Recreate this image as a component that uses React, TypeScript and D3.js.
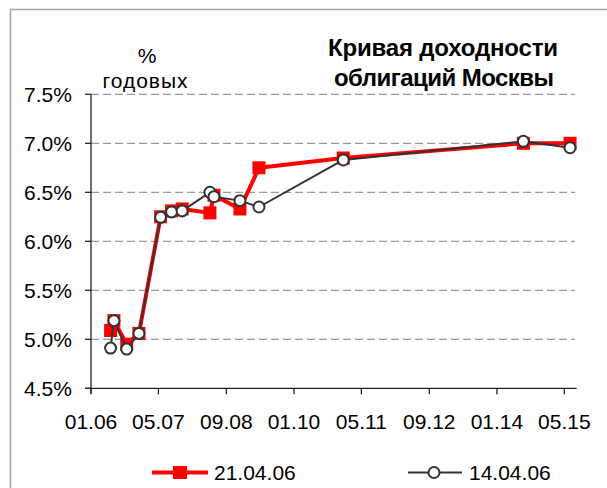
import * as d3 from 'd3';

const W = 607;
const H = 488;

// maturity dates of the bonds (shared by both curves)
const maturities = [
  '2006-05-22', '2006-06-15', '2006-09-15', '2006-12-12', '2007-05-17',
  '2007-08-04', '2007-10-19', '2008-05-06', '2008-06-04', '2008-12-08',
  '2009-04-24', '2010-12-22', '2014-07-10', '2015-06-11',
];
const yields210406 = [5.09, 5.19, 4.95, 5.06, 6.25, 6.31, 6.33, 6.29, 6.47, 6.33, 6.75, 6.85, 7.0, 7.0];
const yields140406 = [4.91, 5.19, 4.9, 5.06, 6.245, 6.3, 6.31, 6.5, 6.455, 6.415, 6.35, 6.83, 7.02, 6.955];

const xTickDates = ['2006-01-01', '2007-05-01', '2008-09-01', '2010-01-01', '2011-05-01', '2012-09-01', '2014-01-01', '2015-05-01'];
const yTicks = [4.5, 5.0, 5.5, 6.0, 6.5, 7.0, 7.5];
const seriesNames = ['21.04.06', '14.04.06'];

const font = '"Liberation Sans", Arial, sans-serif';
const parse = d3.utcParse('%Y-%m-%d');
const fmtX = d3.utcFormat('%m.%y');

export default function App() {
  const plot = { left: 91, right: 576.7, top: 94.3, bottom: 388.3 };
  const x = d3
    .scaleUtc()
    .domain([parse('2006-01-01')!, parse('2015-07-29')!])
    .range([plot.left, plot.right]);
  const y = d3.scaleLinear().domain([4.5, 7.5]).range([plot.bottom, plot.top]);

  const dates = maturities.map((d) => parse(d)!);
  const pts21 = dates.map((d, i) => [x(d), y(yields210406[i])] as [number, number]);
  const pts14 = dates.map((d, i) => [x(d), y(yields140406[i])] as [number, number]);
  const line = d3.line();

  return (
    <div style={{ position: 'absolute', left: 0, top: 0 }}>
      <svg width={W} height={H} style={{ display: 'block', fontFamily: font }}>
        <rect x={0} y={0} width={W} height={H} fill="#fff" />
        {/* chart frame */}
        <path d={`M10.5,${H + 5}V9.5H${W + 5}`} fill="none" stroke="#a6a6a6" strokeWidth={1.5} />

        {/* gridlines */}
        {yTicks.slice(1).map((t) => (
          <line key={t} x1={plot.left} x2={575} y1={y(t)} y2={y(t)} stroke="#999" strokeDasharray="8,4" strokeWidth={1.2} />
        ))}

        {/* axes */}
        <line x1={plot.left} x2={plot.left} y1={plot.top} y2={plot.bottom + 5} stroke="#222" strokeWidth={1.3} />
        <line x1={plot.left - 6} x2={plot.right} y1={plot.bottom} y2={plot.bottom} stroke="#222" strokeWidth={1.3} />
        {yTicks.map((t) => (
          <g key={t}>
            <line x1={plot.left - 6} x2={plot.left} y1={y(t)} y2={y(t)} stroke="#222" strokeWidth={1.3} />
            <text x={72} y={y(t) + 7.5} textAnchor="end" fontSize={21} fill="#000">
              {d3.format('.1f')(t)}%
            </text>
          </g>
        ))}
        {xTickDates.map((s) => {
          const d = parse(s)!;
          return (
            <g key={s}>
              <line x1={x(d)} x2={x(d)} y1={plot.bottom} y2={plot.bottom + 6} stroke="#222" strokeWidth={1.3} />
              <text x={x(d)} y={429} textAnchor="middle" fontSize={21} fill="#000">
                {fmtX(d)}
              </text>
            </g>
          );
        })}

        {/* series 21.04.06 */}
        <path d={line(pts21)!} fill="none" stroke="#ff0000" strokeWidth={4} strokeLinejoin="round" />
        {pts21.map(([px, py], i) => (
          <rect key={i} x={px - 6.5} y={py - 6.5} width={13} height={13} fill="#ff0000" />
        ))}

        {/* series 14.04.06 */}
        <path d={line(pts14)!} fill="none" stroke="#333" strokeWidth={2} strokeLinejoin="round" />
        {pts14.map(([px, py], i) => (
          <circle key={i} cx={px} cy={py} r={5.5} fill="#fff" stroke="#333" strokeWidth={2} />
        ))}

        {/* titles */}
        <text x={147} y={63} textAnchor="middle" fontSize={21} fill="#000">%</text>
        <text x={145} y={88} textAnchor="middle" fontSize={21} fill="#000" textLength={85}>годовых</text>
        <text x={443} y={56} textAnchor="middle" fontSize={24} fontWeight="bold" fill="#000" textLength={230}>Кривая доходности</text>
        <text x={444} y={86} textAnchor="middle" fontSize={24} fontWeight="bold" fill="#000" textLength={220}>облигаций Москвы</text>

        {/* legend */}
        <line x1={152} x2={208} y1={472.5} y2={472.5} stroke="#ff0000" strokeWidth={4} />
        <rect x={173} y={466} width={14} height={13} fill="#ff0000" />
        <text x={214} y={480} fontSize={21} fill="#000">{seriesNames[0]}</text>
        <line x1={408} x2={462} y1={472.5} y2={472.5} stroke="#333" strokeWidth={2} />
        <circle cx={434} cy={472.5} r={5.5} fill="#fff" stroke="#333" strokeWidth={2} />
        <text x={469} y={480} fontSize={21} fill="#000">{seriesNames[1]}</text>
      </svg>
    </div>
  );
}
